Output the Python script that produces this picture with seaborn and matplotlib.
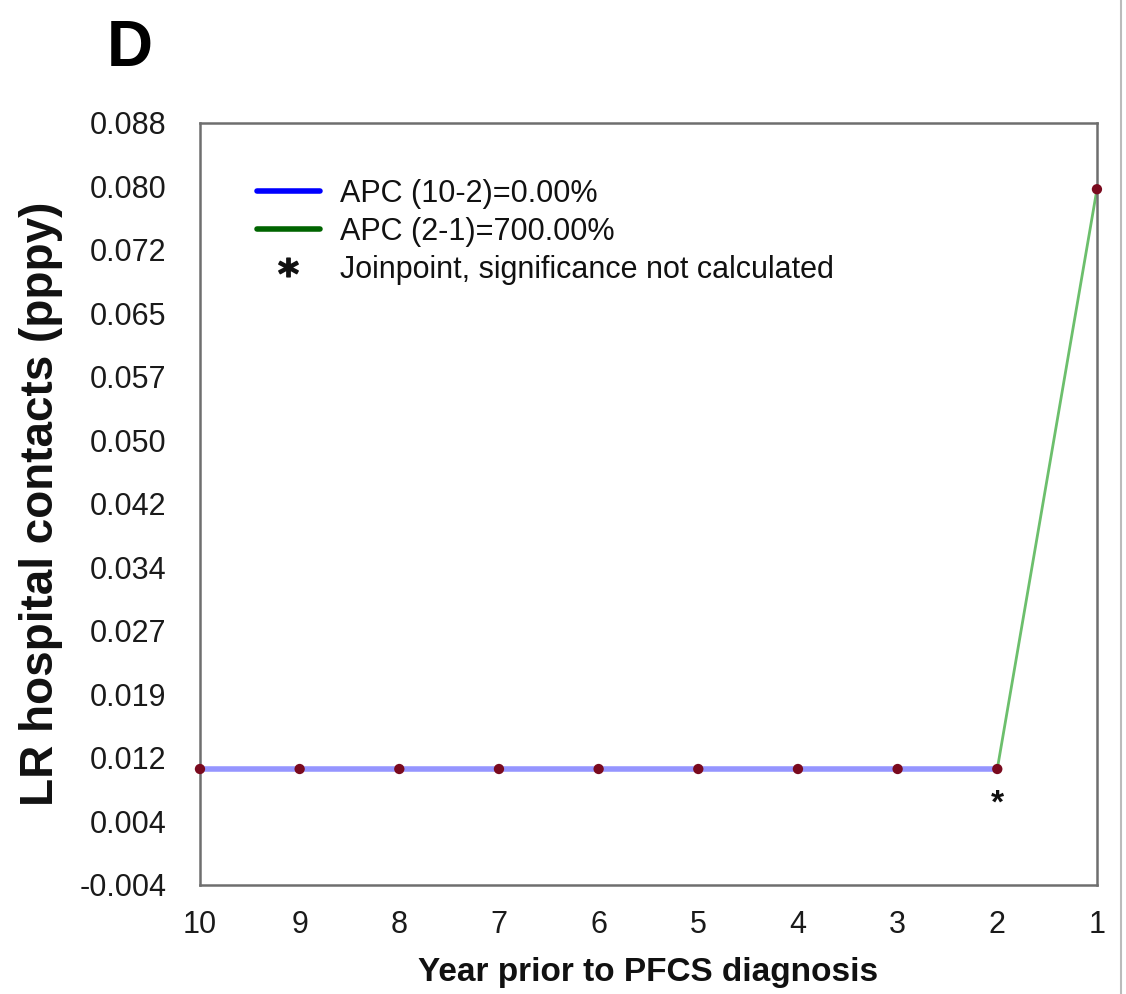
import matplotlib
matplotlib.use("Agg")
import matplotlib.pyplot as plt
from matplotlib.lines import Line2D
import seaborn as sns
import pandas as pd

# data
years = [10, 9, 8, 7, 6, 5, 4, 3, 2, 1]
observed = [0.010, 0.010, 0.010, 0.010, 0.010, 0.010, 0.010, 0.010, 0.010, 0.080]
seg1_years = [10, 9, 8, 7, 6, 5, 4, 3, 2]
seg1_fit = [0.010, 0.010, 0.010, 0.010, 0.010, 0.010, 0.010, 0.010, 0.010]
seg2_years = [2, 1]
seg2_fit = [0.010, 0.080]
joinpoint_year = [2]
joinpoint_val = [0.010]

ytick_vals = [-0.004, 0.003667, 0.011333, 0.019, 0.026667, 0.034333, 0.042,
              0.049667, 0.057333, 0.065, 0.072667, 0.080333, 0.088]
ytick_labels = ["-0.004", "0.004", "0.012", "0.019", "0.027", "0.034", "0.042",
                "0.050", "0.057", "0.065", "0.072", "0.080", "0.088"]
legend_labels = ["APC (10-2)=0.00%", "APC (2-1)=700.00%",
                 "Joinpoint, significance not calculated"]

sns.set_style("white")
plt.rcParams["font.family"] = ["Liberation Sans", "DejaVu Sans"]
plt.rcParams["text.color"] = "#111111"
plt.rcParams["axes.labelcolor"] = "#111111"

fig = plt.figure(figsize=(11.26, 9.94), dpi=100)
ax = fig.add_axes([0.1776, 0.1097, 0.7966, 0.7666])

obs = pd.DataFrame({"year": years, "rate": observed})
s1 = pd.DataFrame({"year": seg1_years, "rate": seg1_fit})
s2 = pd.DataFrame({"year": seg2_years, "rate": seg2_fit})

sns.lineplot(data=s1, x="year", y="rate", ax=ax, color="#9595ff", lw=4, zorder=2)
sns.lineplot(data=s2, x="year", y="rate", ax=ax, color="#6cbf6c", lw=2, zorder=2)
sns.scatterplot(data=obs, x="year", y="rate", ax=ax, color="#7a0a1e",
                marker="o", s=55, edgecolor="none", zorder=3, clip_on=False)

for x, y in zip(joinpoint_year, joinpoint_val):
    ax.annotate("*", (x, y), xytext=(0, -14), textcoords="offset points",
                ha="center", va="top", fontsize=24, fontweight="bold")

ax.set_xlim(10, 1)
ax.set_ylim(-0.004, 0.088)
ax.set_xticks(years)
ax.set_xticklabels([str(v) for v in years])
ax.set_yticks(ytick_vals)
ax.set_yticklabels(ytick_labels)
ax.tick_params(axis="both", length=0, labelsize=22, colors="#1a1a1a")
ax.tick_params(axis="y", pad=24)
ax.tick_params(axis="x", pad=18)
for sp in ax.spines.values():
    sp.set_color("#6e6e6e")
    sp.set_linewidth(1.8)

ax.set_xlabel("Year prior to PFCS diagnosis", fontsize=24, fontweight="bold", labelpad=12)
ax.set_ylabel("LR hospital contacts (pppy)", fontsize=33, fontweight="bold", labelpad=12)

handles = [Line2D([], [], color="#0000ff", lw=4),
           Line2D([], [], color="#006400", lw=4),
           Line2D([], [], color="#111111", lw=0, marker=r"$\mathbf{*}$", markersize=14)]
ax.legend(handles, legend_labels, loc="upper left", bbox_to_anchor=(0.0636, 0.927),
          borderaxespad=0, borderpad=0, frameon=False, fontsize=22,
          handlelength=2.05, labelspacing=0.27, handletextpad=0.65)

fig.text(0.1155, 0.951, "D", fontsize=46, fontweight="bold", ha="center", va="center",
         color="black")
fig.add_artist(Line2D([0.9955, 0.9955], [0, 1], color="#bbbbbb", lw=1.5))

fig.savefig("out.png", dpi=100)
